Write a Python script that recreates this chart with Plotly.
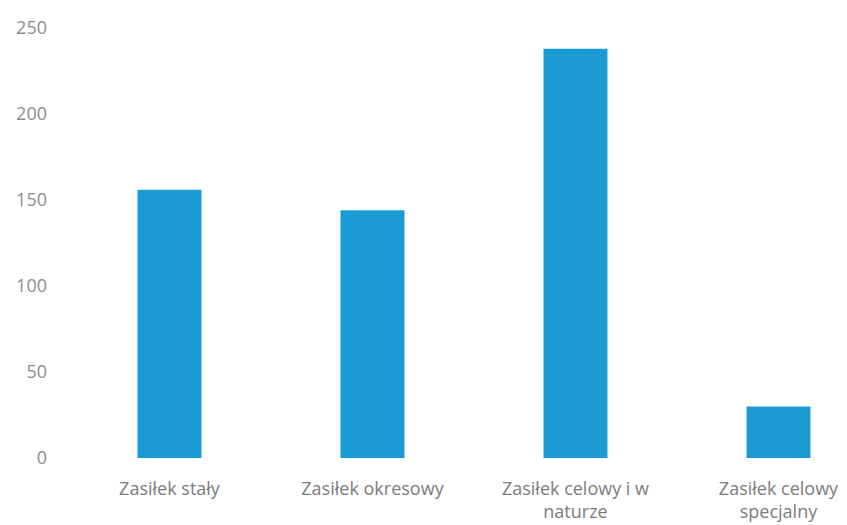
import plotly.graph_objects as go

categories = [
    "Zasiłek stały",
    "Zasiłek okresowy",
    "Zasiłek celowy i w<br>naturze",
    "Zasiłek celowy<br>specjalny",
]
values = [156, 144, 238, 30]
y_ticks = [0, 50, 100, 150, 200, 250]

fig = go.Figure()
fig.add_trace(
    go.Bar(
        x=categories,
        y=values,
        width=0.315,
        marker={"color": "#1a9bd3", "line": {"width": 0}},
    )
)

# page body adds 8px offset, so margins are shifted to match
fig.update_layout(
    width=847,
    height=525,
    margin={"l": 60, "r": 0, "t": 20, "b": 75},
    plot_bgcolor="white",
    paper_bgcolor="white",
    font={"family": "Open Sans", "color": "#7c7c7c", "size": 18},
    showlegend=False,
)
fig.update_xaxes(
    range=[-0.5, 3.377],
    showgrid=False,
    showline=False,
    zeroline=False,
    ticks="",
    ticklabelstandoff=18,
)
fig.update_yaxes(
    range=[0, 250],
    tickvals=y_ticks,
    showgrid=False,
    showline=False,
    zeroline=False,
    ticks="",
    ticklabelstandoff=20,
    tickfont={"size": 18, "color": "#8c8c8c"},
)

fig.write_html("out.html")
